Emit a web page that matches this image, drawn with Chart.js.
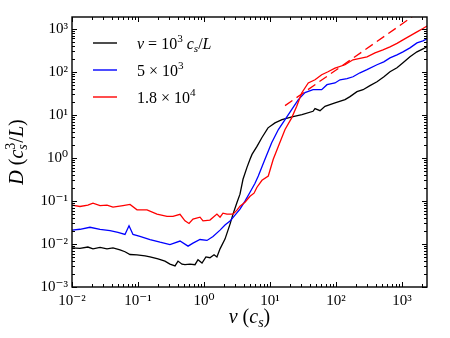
<!DOCTYPE html>
<html><head><meta charset="utf-8">
<script src="https://cdn.jsdelivr.net/npm/chart.js@4/dist/chart.umd.min.js"></script>
<style>html,body{margin:0;padding:0;background:#fff}#wrap{width:450px;height:338px;position:relative}</style>
</head><body><div id="wrap"><canvas id="c" width="450" height="338"></canvas></div>
<script>
// ---- data ----
const vBlack=[0.0100,0.0132,0.0174,0.0208,0.0266,0.0339,0.0418,0.0534,0.0635,0.0757,0.0966,0.128,0.152,0.201,0.256,0.305,0.364,0.404,0.464,0.515,0.614,0.731,0.811,0.933,1.07,1.23,1.42,1.57,1.75,2.08,2.48,2.75,3.16,3.51,3.90,4.48,4.98,5.34,6.35,7.56,9.33,11.9,15.2,21.5,30.5,44.9,48.1,57.3,68.1,96.6,137,163,208,257,327,418,533,658,840,1035,1321,1687,2080,2393];
const dBlack=[0.0081,0.0079,0.0085,0.0077,0.0083,0.0077,0.0081,0.0073,0.0066,0.0057,0.0056,0.0053,0.0050,0.0045,0.0040,0.0034,0.0031,0.0040,0.0034,0.0033,0.0034,0.0033,0.0043,0.0036,0.0050,0.0048,0.0056,0.0050,0.0077,0.013,0.029,0.0495,0.092,0.144,0.32,0.605,0.93,1.21,1.86,3.0,5.02,6.56,7.83,9.04,10.2,12.2,14.1,12.6,15.9,19.0,22.7,26.7,34.8,38.7,48,59.3,77.4,101,125,163,225,294,344,383];
const vBlue=[0.0100,0.0132,0.0187,0.0266,0.0377,0.0497,0.0635,0.0731,0.0840,0.107,0.152,0.216,0.305,0.433,0.573,0.681,0.870,1.11,1.37,1.75,2.08,2.48,2.95,3.51,4.18,4.98,5.93,6.65,8.39,10.6,13.4,16.9,21.3,26.9,33.9,44.9,60.7,73.1,96.6,115,147,181,231,295,418,530,658,840,1035,1321,1687,2080,2393];
const dBlue=[0.0211,0.022,0.0245,0.0219,0.0205,0.0187,0.0167,0.0266,0.0167,0.0150,0.0127,0.0110,0.0097,0.0117,0.0089,0.0105,0.0127,0.0121,0.0150,0.021,0.0275,0.034,0.047,0.0646,0.099,0.16,0.258,0.381,0.93,2.26,4.59,7.83,13.3,22.7,33.0,38.7,38.7,50.6,55.4,65.9,69.7,77.4,95.7,113,147,172,213,250,294,363,474,527,588];
const vRed=[0.0100,0.0132,0.0174,0.0208,0.0266,0.0339,0.0418,0.0593,0.0757,0.0966,0.137,0.194,0.275,0.339,0.433,0.515,0.593,0.681,0.870,0.966,1.23,1.57,1.75,1.94,2.23,2.75,3.16,3.51,4.18,4.98,5.73,6.35,7.56,9.42,11.2,13.4,16.9,21.3,25.4,30.2,38.0,48.1,60.7,75.7,96.6,137,181,231,295,390,515,658,840,1035,1321,1687,2080,2393];
const dRed=[0.080,0.0745,0.080,0.089,0.078,0.080,0.0718,0.078,0.083,0.0622,0.0622,0.0495,0.0437,0.0437,0.049,0.0346,0.030,0.038,0.042,0.0346,0.036,0.0495,0.042,0.0522,0.0495,0.0495,0.0612,0.0758,0.0937,0.129,0.152,0.209,0.303,0.381,0.93,1.88,4.59,8.57,15.9,32.5,55.4,65.9,86.1,101,123,147,192,208,225,278,326,383,462,556,689,853,1027,1173];
const vFit=[16.9,1420];
const dFit=[16.5,1900];
const seriesLabels=['ν = 10³ cₛ/L','5 × 10³','1.8 × 10⁴'];
const seriesColors=['#000000','#0000ff','#ff0000'];
const xTickValues=[0.01,0.1,1,10,100,1000];
const xTickLabels=['10⁻²','10⁻¹','10⁰','10¹','10²','10³'];
const yTickValues=[0.001,0.01,0.1,1,10,100,1000];
const yTickLabels=['10⁻³','10⁻²','10⁻¹','10⁰','10¹','10²','10³'];
const xTitle='v (cₛ)';
const yTitle='D (cₛ³/L)';

// ---- rich-text pieces for math-style labels ----
const FAM="'Liberation Serif','DejaVu Serif',serif";
const legendRich=[
  [{t:'ν',it:1},{t:' = 10'},{t:'3',pos:'sup'},{t:' '},{t:'c',it:1},{t:'s',it:1,pos:'sub'},{t:'/'},{t:'L',it:1}],
  [{t:'5 × 10'},{t:'3',pos:'sup'}],
  [{t:'1.8 × 10'},{t:'4',pos:'sup'}]
];
const xTitleRich=[{t:'v',it:1},{t:' ('},{t:'c',it:1},{t:'s',it:1,pos:'sub'},{t:')'}];
const yTitleRich=[{t:'D',it:1},{t:' ('},{t:'c',it:1},{t:'s',it:1,pos:'sub',adv:false},{t:'3',pos:'sup'},{t:'/'},{t:'L',it:1},{t:')'}];

function segFont(s,size){const sz=s.pos?size*0.7:size;return (s.it?'italic ':'')+sz.toFixed(1)+'px '+FAM;}
function richWidth(ctx,segs,size){let w=0;for(const s of segs){ctx.font=segFont(s,size);if(s.adv!==false)w+=ctx.measureText(s.t).width;}return w;}
function drawRich(ctx,segs,x,y,size,align){
  const w=richWidth(ctx,segs,size);let cx=align==='center'?x-w/2:x;
  ctx.textAlign='left';ctx.textBaseline='alphabetic';ctx.fillStyle='#000';
  for(const s of segs){ctx.font=segFont(s,size);
    const dy=s.pos==='sup'?-size*0.4:(s.pos==='sub'?size*0.22:0);
    ctx.fillText(s.t,cx,y+dy);if(s.adv!==false)cx+=ctx.measureText(s.t).width;}
}
function logTicks(min,max){const out=[];for(let e=Math.floor(Math.log10(min))-1;e<=Math.ceil(Math.log10(max));e++){for(let m=1;m<=9;m++){const v=m*Math.pow(10,e);if(v>=min*0.99999&&v<=max*1.00001)out.push({v,major:m===1});}}return out;}
function pow10Label(values,labels){return function(value){const i=values.findIndex(t=>Math.abs(Math.log10(value)-Math.log10(t))<1e-6);return i>=0?labels[i]:'';};}

const decor={id:'decor',afterDatasetsDraw(chart){
  const ctx=chart.ctx,a=chart.chartArea,xs=chart.scales.x,ys=chart.scales.y;
  ctx.save();
  ctx.strokeStyle='#000';ctx.lineWidth=1;
  for(const t of logTicks(xs.min,xs.max)){const p=Math.round(xs.getPixelForValue(t.v))+0.5;const L=t.major?5:3;
    ctx.beginPath();ctx.moveTo(p,a.bottom);ctx.lineTo(p,a.bottom-L);ctx.moveTo(p,a.top);ctx.lineTo(p,a.top+L);ctx.stroke();}
  for(const t of logTicks(ys.min,ys.max)){const p=Math.round(ys.getPixelForValue(t.v))+0.5;const L=t.major?5:3;
    ctx.beginPath();ctx.moveTo(a.left,p);ctx.lineTo(a.left+L,p);ctx.moveTo(a.right,p);ctx.lineTo(a.right-L,p);ctx.stroke();}
  ctx.lineWidth=1.4;ctx.strokeRect(a.left,a.top,a.right-a.left,a.bottom-a.top);
  // legend
  for(let i=0;i<3;i++){const ly=43+i*27;ctx.strokeStyle=seriesColors[i];ctx.lineWidth=1.4;
    ctx.beginPath();ctx.moveTo(93,ly);ctx.lineTo(117,ly);ctx.stroke();
    drawRich(ctx,legendRich[i],137,ly+5.5,16,'left');}
  // axis titles
  drawRich(ctx,xTitleRich,(a.left+a.right)/2,323,20,'center');
  ctx.translate(23,(a.top+a.bottom)/2);ctx.rotate(-Math.PI/2);
  drawRich(ctx,yTitleRich,0,0,20,'center');
  ctx.restore();
}};

const mk=(label,xs,ys,color,dash)=>({label,data:xs.map((x,i)=>({x,y:ys[i]})),borderColor:color,backgroundColor:color,
  borderWidth:1.3,pointRadius:0,tension:0,fill:false,borderDash:dash||[]});

new Chart(document.getElementById('c'),{
  type:'line',
  data:{datasets:[
    mk('fit',vFit,dFit,seriesColors[2],[9,5]),
    mk(seriesLabels[2],vRed,dRed,seriesColors[2]),
    mk(seriesLabels[1],vBlue,dBlue,seriesColors[1]),
    mk(seriesLabels[0],vBlack,dBlack,seriesColors[0])
  ]},
  options:{
    responsive:false,animation:false,devicePixelRatio:1,
    layout:{padding:{top:17,right:23,left:0,bottom:0}},
    plugins:{legend:{display:false},tooltip:{enabled:false}},
    scales:{
      x:{type:'logarithmic',min:0.01,max:2393,
        grid:{display:false,drawTicks:false},border:{display:false},
        ticks:{autoSkip:false,maxRotation:0,padding:5,color:'#000',font:{family:FAM,size:15},callback:pow10Label(xTickValues,xTickLabels)},
        afterFit(s){s.height=51;}},
      y:{type:'logarithmic',min:0.001,max:1897,
        grid:{display:false,drawTicks:false},border:{display:false},
        ticks:{autoSkip:false,padding:4,color:'#000',font:{family:FAM,size:15},callback:pow10Label(yTickValues,yTickLabels)},
        afterFit(s){s.width=72;}}
    }
  },
  plugins:[decor]
});
</script></body></html>
